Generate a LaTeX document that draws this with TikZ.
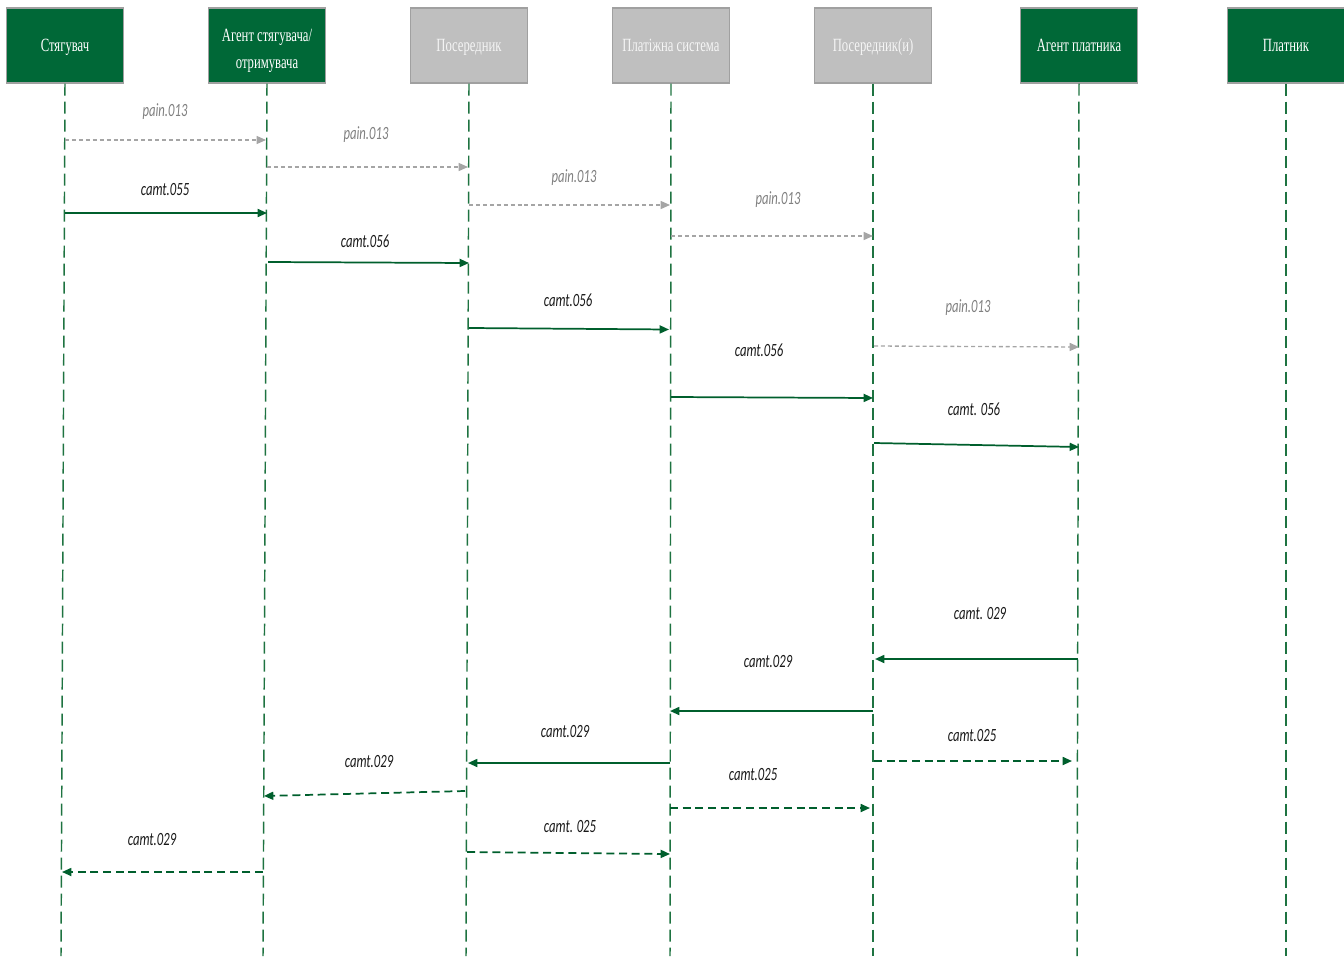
\documentclass[tikz,border=0pt]{standalone}
\usepackage{fontspec}
\usetikzlibrary{arrows.meta}
\newfontfamily\hdrfont[FakeStretch=0.68]{Liberation Serif}
\newfontfamily\lblfont[FakeStretch=0.68,ItalicFont={Carlito Italic}]{Carlito}
\definecolor{hgreen}{RGB}{0,104,55}
\definecolor{hgray}{RGB}{191,191,191}
\definecolor{hgrayb}{RGB}{160,160,160}
\definecolor{lgreen}{RGB}{30,115,65}
\definecolor{agreen}{RGB}{0,95,45}
\definecolor{pgray}{RGB}{165,165,165}
\definecolor{ptext}{RGB}{128,128,128}
\tikzset{
  hdrbox/.style={draw=hgrayb, line width=0.8pt, minimum width=117*0.75pt, minimum height=75*0.75pt, inner sep=1pt, align=center, font=\hdrfont\fontsize{14}{18}\selectfont},
  onebox/.style={hdrbox, text height=11.5pt, text depth=3pt},
  greenbox/.style={onebox, fill=hgreen, text=white},
  graybox/.style={onebox, fill=hgray, text=white!92!gray},
  greentwo/.style={hdrbox, fill=hgreen, text=white},
  lifeline/.style={draw=lgreen, line width=1.1pt, dash pattern=on 9pt off 4.5pt},
  msgsolid/.style={draw=agreen, line width=1.3pt, -{Triangle[length=7pt,width=6pt]}},
  msgdash/.style={draw=agreen, line width=1.3pt, dash pattern=on 6pt off 3.5pt, -{Triangle[length=7pt,width=6pt]}},
  msgpain/.style={draw=pgray, line width=1pt, dash pattern=on 3pt off 2.2pt, -{Triangle[length=7pt,width=6pt]}},
  camtlbl/.style={font=\lblfont\itshape\fontsize{14}{16}\selectfont, text=black!90, inner sep=0pt},
  painlbl/.style={camtlbl, text=ptext},
}
\begin{document}
\begin{tikzpicture}[x=0.75pt,y=-0.75pt]
\useasboundingbox (0,0) rectangle (1344,956);
% headers
\node[greenbox] (h1) at (65,45.5) {Стягувач};
\node[greentwo] (h2) at (267,45.5) {\rule{0pt}{17pt}Агент стягувача/\\[2pt]отримувача};
\node[graybox]  (h3) at (469,45.5) {Посередник};
\node[graybox]  (h4) at (671,45.5) {Платіжна система};
\node[graybox]  (h5) at (873,45.5) {Посередник(и)};
\node[greenbox] (h6) at (1079,45.5) {Агент платника};
\node[greenbox] (h7) at (1286,45.5) {Платник};
% lifeline ends
\coordinate (b1) at (61,956);
\coordinate (b2) at (263,956);
\coordinate (b3) at (466,956);
\coordinate (b4) at (670,956);
\coordinate (b5) at (873,956);
\coordinate (b6) at (1077,956);
\coordinate (b7) at (1286,956);
\foreach \i in {1,...,7} {\draw[lifeline] (h\i.south) -- (b\i);}
% message end points
\coordinate (m1a) at (65,140);   \coordinate (m1b) at (266,140);
\coordinate (m2a) at (267,167);  \coordinate (m2b) at (468,167);
\coordinate (m3a) at (65,213);   \coordinate (m3b) at (267,213);
\coordinate (m4a) at (469,205);  \coordinate (m4b) at (670,205);
\coordinate (m5a) at (671,236);  \coordinate (m5b) at (873,236);
\coordinate (m6a) at (268,262);  \coordinate (m6b) at (469,263);
\coordinate (m7a) at (469,328);  \coordinate (m7b) at (669,329.5);
\coordinate (m8a) at (874,346);  \coordinate (m8b) at (1079,347);
\coordinate (m9a) at (671,397);  \coordinate (m9b) at (873,398);
\coordinate (m10a) at (874,443); \coordinate (m10b) at (1079,447);
\coordinate (m11a) at (1078,659);\coordinate (m11b) at (875,659);
\coordinate (m12a) at (873,711); \coordinate (m12b) at (670,711);
\coordinate (m13a) at (670,763); \coordinate (m13b) at (468,763);
\coordinate (m14a) at (465,791); \coordinate (m14b) at (264,796);
\coordinate (m15a) at (874,761); \coordinate (m15b) at (1072,761);
\coordinate (m16a) at (670,808); \coordinate (m16b) at (870,808);
\coordinate (m17a) at (467,852); \coordinate (m17b) at (670,854);
\coordinate (m18a) at (263,872); \coordinate (m18b) at (62,872);
% messages
\draw[msgpain] (m1a) -- (m1b);
\draw[msgpain] (m2a) -- (m2b);
\draw[msgsolid] (m3a) -- (m3b);
\draw[msgpain] (m4a) -- (m4b);
\draw[msgpain] (m5a) -- (m5b);
\draw[msgsolid] (m6a) -- (m6b);
\draw[msgsolid] (m7a) -- (m7b);
\draw[msgpain] (m8a) -- (m8b);
\draw[msgsolid] (m9a) -- (m9b);
\draw[msgsolid] (m10a) -- (m10b);
\draw[msgsolid] (m11a) -- (m11b);
\draw[msgsolid] (m12a) -- (m12b);
\draw[msgsolid] (m13a) -- (m13b);
\draw[msgdash] (m14a) -- (m14b);
\draw[msgdash] (m15a) -- (m15b);
\draw[msgdash] (m16a) -- (m16b);
\draw[msgdash] (m17a) -- (m17b);
\draw[msgdash] (m18a) -- (m18b);
% labels
\node[painlbl] (l1) at (165,112) {pain.013};
\node[painlbl] (l2) at (366,135) {pain.013};
\node[camtlbl] (l3) at (165,190) {camt.055};
\node[painlbl] (l4) at (574,178) {pain.013};
\node[painlbl] (l5) at (778,200) {pain.013};
\node[camtlbl] (l6) at (365,241) {camt.056};
\node[camtlbl] (l7) at (568,300) {camt.056};
\node[painlbl] (l8) at (968,308) {pain.013};
\node[camtlbl] (l9) at (759,350) {camt.056};
\node[camtlbl] (l10) at (974,409) {camt. 056};
\node[camtlbl] (l11) at (980,614) {camt. 029};
\node[camtlbl] (l12) at (768,662) {camt.029};
\node[camtlbl] (l13) at (565,732) {camt.029};
\node[camtlbl] (l14) at (369,762) {camt.029};
\node[camtlbl] (l15) at (972,736) {camt.025};
\node[camtlbl] (l16) at (753,775) {camt.025};
\node[camtlbl] (l17) at (570,827) {camt. 025};
\node[camtlbl] (l18) at (152,840) {camt.029};
\end{tikzpicture}
\end{document}
